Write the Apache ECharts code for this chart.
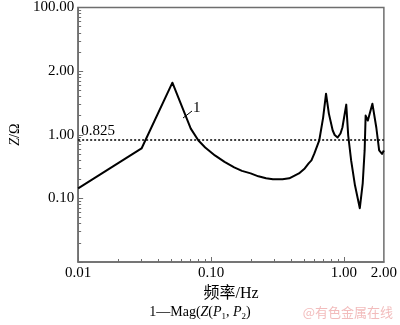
<!DOCTYPE html>
<html>
<head>
<meta charset="utf-8">
<script src="https://cdn.jsdelivr.net/npm/echarts@6/dist/echarts.min.js"></script>
<style>
  html, body { margin: 0; padding: 0; background: #fff; }
  #chart { width: 400px; height: 325px; }
</style>
</head>
<body>
<div id="chart"></div>
<script>
// 频率 (Hz) 与阻抗幅值 (Ω)
const freq = [0.01, 0.030, 0.0512, 0.0704, 0.0804, 0.0904, 0.107, 0.1264, 0.1495, 0.1709, 0.1988,
  0.2272, 0.2597, 0.2921, 0.345, 0.388, 0.459, 0.5076, 0.543, 0.570, 0.600, 0.6525, 0.698, 0.734,
  0.771, 0.824, 0.853, 0.897, 0.943, 0.975, 1.042, 1.078, 1.134, 1.212, 1.318,
  1.386, 1.433, 1.458, 1.515, 1.639, 1.754, 1.843, 1.937, 2.0]
const mag = [0.144, 0.609, 6.58, 1.25, 0.813, 0.632, 0.473, 0.3745, 0.307, 0.2707, 0.247,
  0.2221, 0.2065, 0.1992, 0.1993, 0.2065, 0.247, 0.296, 0.355, 0.395, 0.509, 0.813, 1.862, 4.42,
  2.15, 1.166, 0.991, 0.906, 1.046, 1.30, 2.976, 0.973, 0.395, 0.1605, 0.070,
  0.1726, 0.567, 2.0, 1.67, 3.08, 1.30, 0.567, 0.50, 0.567]
const refValue = 0.825

// 刻度
const xLabelValues = [0.01, 0.1, 1, 2]
const xMajorTicks = [0.01, 0.1, 1]
const yTickLabels = ['', '0.10', '1.00', '2.00', '100.00'] // 对应 0.01, 0.1, 1, 10, 100

const serif = 'Liberation Serif, Times New Roman, serif'
const axisGray = '#6e6e6e'

const chart = echarts.init(document.getElementById('chart'), null, { renderer: 'canvas' })

const option = {
  animation: false,
  grid: {
    left: 69, right: 15, top: 7, bottom: 63,
    show: true, borderColor: axisGray, borderWidth: 1.5, backgroundColor: 'transparent'
  },
  xAxis: {
    type: 'log',
    min: 0.01,
    max: 2,
    position: 'bottom',
    name: '频率/Hz',
    nameLocation: 'middle',
    nameGap: 16,
    nameTextStyle: { fontFamily: serif + ', Noto Sans CJK SC', fontSize: 16, color: '#000' },
    splitLine: { show: false },
    axisLine: { show: true, onZero: false, lineStyle: { color: axisGray, width: 1.5 } },
    // 负长度: 刻度朝内
    axisTick: { show: true, inside: false, length: -5, customValues: xMajorTicks, lineStyle: { color: axisGray } },
    minorTick: { show: true, splitNumber: 9, length: -3, lineStyle: { color: axisGray } },
    axisLabel: {
      customValues: xLabelValues,
      margin: 4,
      color: '#000',
      fontFamily: serif,
      fontSize: 15,
      formatter: v => Number(v).toFixed(2)
    }
  },
  yAxis: {
    type: 'log',
    min: 0.01,
    max: 100,
    position: 'left',
    name: '{i|Z}/Ω',
    nameLocation: 'middle',
    nameGap: 56,
    nameRotate: 90,
    nameTextStyle: {
      fontFamily: serif, fontSize: 14, color: '#000',
      rich: { i: { fontFamily: serif, fontSize: 14, fontStyle: 'italic', color: '#000' } }
    },
    splitLine: { show: false },
    axisLine: { show: true, onZero: false, lineStyle: { color: axisGray, width: 1.5 } },
    axisTick: { show: true, inside: false, length: -5, lineStyle: { color: axisGray } },
    minorTick: { show: true, splitNumber: 9, length: -3, lineStyle: { color: axisGray } },
    axisLabel: {
      margin: 4,
      color: '#000',
      fontFamily: serif,
      fontSize: 15,
      formatter: v => yTickLabels[Math.round(Math.log10(v)) + 2]
    }
  },
  series: [
    {
      name: 'Mag(Z(P1, P2))',
      type: 'line',
      data: freq.map((f, i) => [f, mag[i]]),
      smooth: false,
      symbol: 'none',
      lineStyle: { color: '#000', width: 2, join: 'round' },
      markLine: {
        silent: true,
        symbol: 'none',
        lineStyle: { color: '#000', width: 1.5, type: [2, 2] },
        label: {
          show: true,
          position: 'insideStartTop',
          distance: [3, 2],
          formatter: String(refValue),
          color: '#000',
          fontFamily: serif,
          fontSize: 15
        },
        data: [{ yAxis: refValue }]
      }
    }
  ],
  graphic: [
    { // 曲线标号
      type: 'line',
      shape: { x1: 183, y1: 118, x2: 192, y2: 111 },
      style: { stroke: '#000', lineWidth: 1 }
    },
    {
      type: 'text',
      left: 193,
      top: 101,
      style: { text: '1', fill: '#000', font: '15px ' + serif }
    },
    { // 图注
      type: 'text',
      left: 'center',
      top: 303,
      style: {
        text: '1—Mag({i|Z}({i|P}{s|1}, {i|P}{s|2})',
        fill: '#000',
        fontFamily: serif,
        fontSize: 14,
        lineHeight: 18,
        rich: {
          i: { fontStyle: 'italic', fontFamily: serif, fontSize: 14, lineHeight: 18 },
          s: { fontFamily: serif, fontSize: 9, lineHeight: 9, verticalAlign: 'bottom' }
        }
      }
    },
    {
      type: 'text',
      right: 7,
      top: 306,
      style: { text: '@有色金属在线', fill: '#f2bcbc', fontFamily: 'Noto Sans CJK SC', fontSize: 13 }
    }
  ]
}

chart.setOption(option)
</script>
</body>
</html>
